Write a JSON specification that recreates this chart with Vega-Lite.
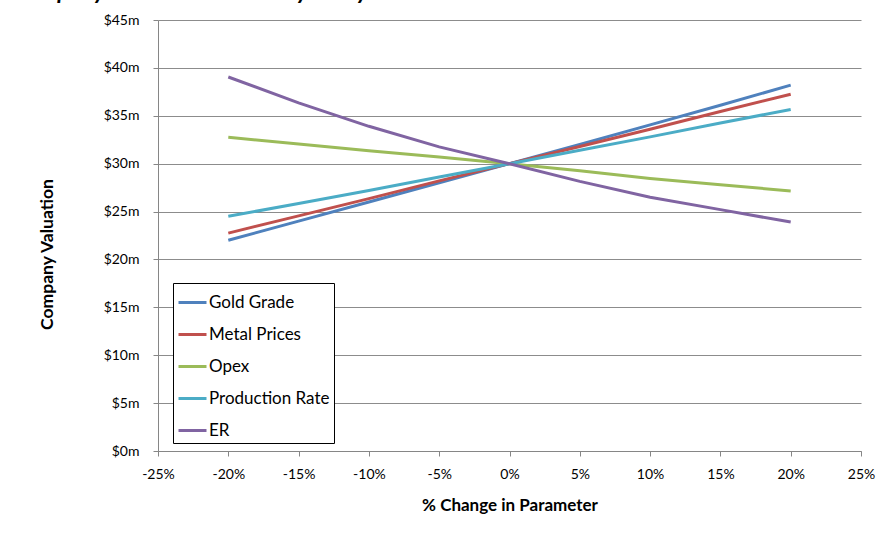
{
  "$schema": "https://vega.github.io/schema/vega-lite/v6.json",
  "width": 703,
  "height": 431,
  "autosize": {"type": "none"},
  "padding": {"left": 158, "top": 20, "right": 20, "bottom": 88},
  "background": "white",
  "config": {
    "font": "Lato",
    "view": {"stroke": null}
  },
  "title": {
    "text": "Company Valuation Sensitivity Analysis",
    "anchor": "start",
    "frame": "group",
    "dx": -145,
    "dy": 14,
    "offset": 5,
    "baseline": "alphabetic",
    "fontSize": 23,
    "fontStyle": "italic",
    "fontWeight": "bold",
    "color": "#000000"
  },
  "data": {
    "values": [
      {"series": "Gold Grade", "change": -0.20, "value": 22.0},
      {"series": "Gold Grade", "change": -0.15, "value": 24.0},
      {"series": "Gold Grade", "change": -0.10, "value": 26.0},
      {"series": "Gold Grade", "change": -0.05, "value": 28.0},
      {"series": "Gold Grade", "change": 0.00, "value": 30.0},
      {"series": "Gold Grade", "change": 0.05, "value": 32.0},
      {"series": "Gold Grade", "change": 0.10, "value": 34.05},
      {"series": "Gold Grade", "change": 0.15, "value": 36.1},
      {"series": "Gold Grade", "change": 0.20, "value": 38.2},
      {"series": "Metal Prices", "change": -0.20, "value": 22.75},
      {"series": "Metal Prices", "change": -0.15, "value": 24.55},
      {"series": "Metal Prices", "change": -0.10, "value": 26.35},
      {"series": "Metal Prices", "change": -0.05, "value": 28.2},
      {"series": "Metal Prices", "change": 0.00, "value": 30.0},
      {"series": "Metal Prices", "change": 0.05, "value": 31.8},
      {"series": "Metal Prices", "change": 0.10, "value": 33.6},
      {"series": "Metal Prices", "change": 0.15, "value": 35.45},
      {"series": "Metal Prices", "change": 0.20, "value": 37.25},
      {"series": "Opex", "change": -0.20, "value": 32.75},
      {"series": "Opex", "change": -0.15, "value": 32.05},
      {"series": "Opex", "change": -0.10, "value": 31.35},
      {"series": "Opex", "change": -0.05, "value": 30.7},
      {"series": "Opex", "change": 0.00, "value": 30.0},
      {"series": "Opex", "change": 0.05, "value": 29.25},
      {"series": "Opex", "change": 0.10, "value": 28.45},
      {"series": "Opex", "change": 0.15, "value": 27.8},
      {"series": "Opex", "change": 0.20, "value": 27.15},
      {"series": "Production Rate", "change": -0.20, "value": 24.5},
      {"series": "Production Rate", "change": -0.15, "value": 25.85},
      {"series": "Production Rate", "change": -0.10, "value": 27.2},
      {"series": "Production Rate", "change": -0.05, "value": 28.6},
      {"series": "Production Rate", "change": 0.00, "value": 30.0},
      {"series": "Production Rate", "change": 0.05, "value": 31.4},
      {"series": "Production Rate", "change": 0.10, "value": 32.8},
      {"series": "Production Rate", "change": 0.15, "value": 34.25},
      {"series": "Production Rate", "change": 0.20, "value": 35.65},
      {"series": "ER", "change": -0.20, "value": 39.05},
      {"series": "ER", "change": -0.15, "value": 36.35},
      {"series": "ER", "change": -0.10, "value": 33.9},
      {"series": "ER", "change": -0.05, "value": 31.75},
      {"series": "ER", "change": 0.00, "value": 30.0},
      {"series": "ER", "change": 0.05, "value": 28.15},
      {"series": "ER", "change": 0.10, "value": 26.5},
      {"series": "ER", "change": 0.15, "value": 25.2},
      {"series": "ER", "change": 0.20, "value": 23.9}
    ]
  },
  "mark": {"type": "line", "strokeWidth": 3, "interpolate": "linear"},
  "encoding": {
    "x": {
      "field": "change",
      "type": "quantitative",
      "scale": {"domain": [-0.25, 0.25], "nice": false, "zero": false},
      "axis": {
        "title": "% Change in Parameter",
        "labelExpr": "replace(format(datum.value, '.0%'), '\u2212', '-')",
        "values": [-0.25, -0.2, -0.15, -0.1, -0.05, 0, 0.05, 0.1, 0.15, 0.2, 0.25],
        "grid": false,
        "domainColor": "#868686",
        "tickColor": "#868686",
        "tickSize": 5,
        "labelPadding": 11,
        "labelFontSize": 14,
        "labelColor": "#000000",
        "labelFlush": false,
        "titleFontSize": 17,
        "titleFontWeight": "bold",
        "titleColor": "#000000",
        "titlePadding": 16
      }
    },
    "y": {
      "field": "value",
      "type": "quantitative",
      "scale": {"domain": [0, 45], "nice": false},
      "axis": {
        "title": "Company Valuation",
        "values": [0, 5, 10, 15, 20, 25, 30, 35, 40, 45],
        "labelExpr": "'$' + datum.value + 'm'",
        "grid": true,
        "gridColor": "#8c8c8c",
        "gridWidth": 1,
        "domainColor": "#868686",
        "tickColor": "#868686",
        "tickSize": 5,
        "labelPadding": 14,
        "labelFontSize": 14,
        "labelColor": "#000000",
        "titleFontSize": 17.5,
        "titleFontWeight": "bold",
        "titleColor": "#000000",
        "titleAngle": -90,
        "titleAlign": "center",
        "titleBaseline": "middle",
        "titleX": -111,
        "titleY": 234
      }
    },
    "color": {
      "field": "series",
      "type": "nominal",
      "scale": {
        "domain": ["Gold Grade", "Metal Prices", "Opex", "Production Rate", "ER"],
        "range": ["#4F81BD", "#C0504D", "#9BBB59", "#4BACC6", "#8064A2"]
      },
      "legend": {
        "title": null,
        "orient": "none",
        "legendX": 15,
        "legendY": 263,
        "symbolType": "stroke",
        "symbolSize": 784,
        "symbolStrokeWidth": 3,
        "labelFontSize": 17,
        "labelColor": "#000000",
        "labelOffset": 1,
        "rowPadding": 8,
        "padding": 4,
        "strokeColor": "#000000",
        "fillColor": "#ffffff"
      }
    }
  }
}
